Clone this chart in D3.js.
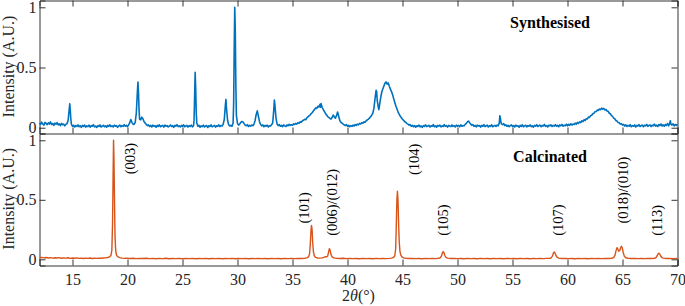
<!DOCTYPE html>
<html>
<head>
<meta charset="utf-8">
<script src="https://cdn.jsdelivr.net/npm/d3@7"></script>
<style>
body { margin: 0; background: #fff; }
text { font-family: "Liberation Serif", "Times New Roman", serif; fill: #262626; }
</style>
</head>
<body>
<div id="chart"></div>
<script>
// 2theta (deg), normalised intensity
var synthesised = [
  [12.0,.040],[12.1,.028],[12.2,.046],[12.3,.031],[12.4,.022],[12.5,.044],[12.6,.036],[12.7,.025],[12.8,.041],[12.9,.030],
  [13.0,.048],[13.1,.027],[13.2,.035],[13.3,.019],[13.4,.038],[13.5,.029],[13.6,.042],[13.7,.024],[13.8,.033],[13.9,.018],
  [14.0,.036],[14.1,.025],[14.2,.030],[14.3,.015],[14.4,.028],[14.5,.034],[14.6,.060],[14.7,.150],[14.75,.198],[14.8,.140],
  [14.85,.070],[14.9,.030],[15.0,.012],[15.1,.020],[15.2,.006],[15.3,.018],[15.4,.010],[15.5,.024],[15.6,.008],[15.7,.016],
  [15.8,.003],[15.9,.019],[16.0,.011],[16.1,.022],[16.2,.005],[16.3,.015],[16.4,.009],[16.5,.021],[16.6,.004],[16.7,.017],
  [16.8,.012],[16.9,.026],[17.0,.007],[17.1,.014],[17.2,.002],[17.3,.018],[17.4,.010],[17.5,.023],[17.6,.006],[17.7,.013],
  [17.8,.020],[17.9,.008],[18.0,.016],[18.1,.004],[18.2,.019],[18.3,.011],[18.4,.024],[18.5,.009],[18.6,.015],[18.7,.006],
  [18.8,.021],[18.9,.012],[19.0,.018],[19.1,.003],[19.2,.014],[19.3,.022],[19.4,.008],[19.5,.017],[19.6,.011],[19.7,.025],
  [19.8,.013],[19.9,.020],[20.0,.009],[20.1,.024],[20.2,.040],[20.3,.068],[20.4,.045],[20.5,.030],[20.6,.028],[20.7,.045],
  [20.8,.120],[20.9,.300],[20.95,.380],[21.0,.290],[21.05,.150],[21.1,.070],[21.2,.065],[21.3,.088],[21.4,.075],[21.5,.052],
  [21.6,.040],[21.7,.028],[21.8,.018],[21.9,.024],[22.0,.010],[22.1,.019],[22.2,.006],[22.3,.021],[22.4,.013],[22.5,.017],
  [22.6,.004],[22.7,.020],[22.8,.011],[22.9,.024],[23.0,.008],[23.1,.015],[23.2,.019],[23.3,.005],[23.4,.022],[23.5,.012],
  [23.6,.018],[23.7,.007],[23.8,.014],[23.9,.023],[24.0,.010],[24.1,.017],[24.2,.003],[24.3,.020],[24.4,.013],[24.5,.026],
  [24.6,.009],[24.7,.016],[24.8,.006],[24.9,.019],[25.0,.011],[25.1,.024],[25.2,.008],[25.3,.014],[25.4,.020],[25.5,.005],
  [25.6,.017],[25.7,.010],[25.8,.022],[25.9,.007],[26.0,.015],[26.05,.060],[26.1,.250],[26.15,.460],[26.2,.330],[26.25,.120],
  [26.3,.040],[26.4,.012],[26.5,.020],[26.6,.004],[26.7,.016],[26.8,.009],[26.9,.021],[27.0,.006],[27.1,.014],[27.2,.018],
  [27.3,.002],[27.4,.017],[27.5,.010],[27.6,.023],[27.7,.008],[27.8,.013],[27.9,.019],[28.0,.005],[28.1,.016],[28.2,.011],
  [28.3,.024],[28.4,.009],[28.5,.018],[28.6,.014],[28.7,.030],[28.8,.070],[28.9,.190],[28.95,.235],[29.0,.160],[29.1,.060],
  [29.2,.025],[29.3,.014],[29.4,.020],[29.5,.012],[29.6,.040],[29.65,.200],[29.7,.650],[29.75,1.0],[29.8,.800],[29.85,.350],
  [29.9,.100],[30.0,.035],[30.1,.022],[30.2,.030],[30.3,.045],[30.4,.052],[30.5,.048],[30.6,.034],[30.7,.022],[30.8,.016],
  [30.9,.025],[31.0,.010],[31.1,.019],[31.2,.013],[31.3,.022],[31.4,.017],[31.5,.030],[31.6,.060],[31.7,.110],[31.8,.140],
  [31.9,.095],[32.0,.050],[32.1,.028],[32.2,.015],[32.3,.024],[32.4,.008],[32.5,.019],[32.6,.012],[32.7,.021],[32.8,.006],
  [32.9,.017],[33.0,.014],[33.1,.025],[33.2,.040],[33.3,.150],[33.35,.230],[33.4,.190],[33.5,.080],[33.6,.030],[33.7,.018],
  [33.8,.026],[33.9,.012],[34.0,.020],[34.1,.009],[34.2,.023],[34.3,.015],[34.4,.010],[34.5,.024],[34.6,.016],[34.7,.028],
  [34.8,.019],[34.9,.025],[35.0,.021],[35.1,.032],[35.2,.027],[35.3,.036],[35.4,.030],[35.5,.042],[35.6,.038],[35.7,.050],
  [35.8,.046],[35.9,.058],[36.0,.062],[36.1,.070],[36.2,.066],[36.3,.082],[36.4,.090],[36.5,.098],[36.6,.105],[36.7,.118],
  [36.8,.126],[36.9,.140],[37.0,.150],[37.1,.165],[37.2,.160],[37.3,.178],[37.4,.172],[37.5,.195],[37.55,.170],[37.6,.200],
  [37.7,.168],[37.8,.150],[37.9,.135],[38.0,.118],[38.1,.105],[38.2,.092],[38.3,.085],[38.4,.078],[38.5,.072],[38.6,.085],
  [38.7,.105],[38.8,.090],[38.9,.080],[39.0,.100],[39.1,.130],[39.2,.095],[39.3,.060],[39.4,.045],[39.5,.038],[39.6,.030],
  [39.7,.024],[39.8,.018],[39.9,.026],[40.0,.012],[40.1,.020],[40.2,.008],[40.3,.017],[40.4,.011],[40.5,.022],[40.6,.014],
  [40.7,.026],[40.8,.019],[40.9,.030],[41.0,.024],[41.1,.036],[41.2,.031],[41.3,.042],[41.4,.038],[41.5,.050],[41.6,.046],
  [41.7,.058],[41.8,.064],[41.9,.072],[42.0,.080],[42.1,.092],[42.2,.104],[42.3,.120],[42.4,.160],[42.5,.240],[42.6,.310],
  [42.65,.300],[42.7,.230],[42.8,.170],[42.85,.150],[42.9,.180],[43.0,.240],[43.1,.290],[43.2,.320],[43.3,.345],[43.4,.370],
  [43.5,.380],[43.6,.362],[43.7,.372],[43.8,.345],[43.9,.320],[44.0,.300],[44.1,.275],[44.2,.240],[44.3,.210],[44.4,.180],
  [44.5,.155],[44.6,.130],[44.7,.112],[44.8,.095],[44.9,.082],[45.0,.070],[45.1,.062],[45.2,.050],[45.3,.046],[45.4,.034],
  [45.5,.030],[45.6,.022],[45.7,.026],[45.8,.012],[45.9,.020],[46.0,.008],[46.1,.018],[46.2,.004],[46.3,.016],[46.4,.010],
  [46.5,.022],[46.6,.007],[46.7,.015],[46.8,.003],[46.9,.018],[47.0,.011],[47.1,.024],[47.2,.009],[47.3,.014],[47.4,.020],
  [47.5,.006],[47.6,.017],[47.7,.012],[47.8,.025],[47.9,.008],[48.0,.016],[48.1,.004],[48.2,.019],[48.3,.013],[48.4,.021],
  [48.5,.007],[48.6,.015],[48.7,.010],[48.8,.026],[48.9,.012],[49.0,.018],[49.1,.005],[49.2,.020],[49.3,.014],[49.4,.009],
  [49.5,.023],[49.6,.011],[49.7,.017],[49.8,.006],[49.9,.021],[50.0,.013],[50.1,.019],[50.2,.008],[50.3,.024],[50.4,.012],
  [50.5,.018],[50.6,.015],[50.7,.028],[50.8,.036],[50.9,.048],[51.0,.056],[51.1,.042],[51.2,.030],[51.3,.020],[51.4,.026],
  [51.5,.011],[51.6,.019],[51.7,.007],[51.8,.022],[51.9,.014],[52.0,.018],[52.1,.005],[52.2,.020],[52.3,.012],[52.4,.025],
  [52.5,.009],[52.6,.016],[52.7,.021],[52.8,.006],[52.9,.017],[53.0,.011],[53.1,.024],[53.2,.008],[53.3,.015],[53.4,.019],
  [53.5,.010],[53.6,.022],[53.7,.016],[53.8,.040],[53.85,.100],[53.9,.080],[53.95,.045],[54.0,.030],[54.1,.026],[54.2,.034],
  [54.3,.018],[54.4,.024],[54.5,.012],[54.6,.020],[54.7,.009],[54.8,.017],[54.9,.023],[55.0,.010],[55.1,.018],[55.2,.006],
  [55.3,.021],[55.4,.013],[55.5,.016],[55.6,.004],[55.7,.019],[55.8,.011],[55.9,.024],[56.0,.008],[56.1,.015],[56.2,.020],
  [56.3,.007],[56.4,.018],[56.5,.012],[56.6,.023],[56.7,.009],[56.8,.016],[56.9,.005],[57.0,.020],[57.1,.013],[57.2,.025],
  [57.3,.010],[57.4,.017],[57.5,.022],[57.6,.008],[57.7,.019],[57.8,.014],[57.9,.027],[58.0,.011],[58.1,.018],[58.2,.006],
  [58.3,.021],[58.4,.015],[58.5,.024],[58.6,.010],[58.7,.019],[58.8,.013],[58.9,.026],[59.0,.012],[59.1,.020],[59.2,.008],
  [59.3,.023],[59.4,.016],[59.5,.027],[59.6,.012],[59.7,.021],[59.8,.017],[59.9,.030],[60.0,.016],[60.1,.028],[60.2,.020],
  [60.3,.033],[60.4,.022],[60.5,.031],[60.6,.026],[60.7,.038],[60.8,.030],[60.9,.044],[61.0,.036],[61.1,.048],[61.2,.042],
  [61.3,.058],[61.4,.050],[61.5,.066],[61.6,.060],[61.7,.074],[61.8,.072],[61.9,.088],[62.0,.086],[62.1,.100],[62.2,.104],
  [62.3,.116],[62.4,.120],[62.5,.132],[62.6,.134],[62.7,.146],[62.8,.144],[62.9,.155],[63.0,.150],[63.1,.162],[63.2,.154],
  [63.3,.160],[63.4,.148],[63.5,.152],[63.6,.138],[63.7,.136],[63.8,.120],[63.9,.116],[64.0,.100],[64.1,.094],[64.2,.080],
  [64.3,.074],[64.4,.060],[64.5,.056],[64.6,.044],[64.7,.042],[64.8,.030],[64.9,.034],[65.0,.022],[65.1,.028],[65.2,.014],
  [65.3,.024],[65.4,.010],[65.5,.020],[65.6,.013],[65.7,.025],[65.8,.008],[65.9,.018],[66.0,.012],[66.1,.023],[66.2,.006],
  [66.3,.019],[66.4,.014],[66.5,.026],[66.6,.010],[66.7,.017],[66.8,.022],[66.9,.008],[67.0,.020],[67.1,.015],[67.2,.028],
  [67.3,.011],[67.4,.019],[67.5,.024],[67.6,.009],[67.7,.021],[67.8,.016],[67.9,.030],[68.0,.013],[68.1,.022],[68.2,.010],
  [68.3,.025],[68.4,.018],[68.5,.031],[68.6,.014],[68.7,.024],[68.8,.012],[68.9,.028],[69.0,.019],[69.1,.034],[69.2,.016],
  [69.3,.040],[69.35,.058],[69.4,.030],[69.5,.022],[69.6,.033],[69.7,.015],[69.8,.026],[69.9,.019],[70.0,.030]
];

var calcinated = [
  [12.0,.014],[12.2,.016],[12.4,.012],[12.6,.015],[12.8,.011],[13.0,.014],[13.2,.010],[13.4,.013],[13.6,.011],[13.8,.014],
  [14.0,.009],[14.2,.012],[14.4,.010],[14.6,.013],[14.8,.008],[15.0,.011],[15.2,.009],[15.4,.012],[15.6,.008],[15.8,.010],
  [16.0,.007],[16.2,.010],[16.4,.008],[16.6,.011],[16.8,.007],[17.0,.009],[17.2,.008],[17.4,.010],[17.6,.009],[17.8,.011],
  [18.0,.012],[18.2,.015],[18.4,.022],[18.5,.034],[18.58,.080],[18.64,.300],[18.69,.700],[18.73,1.0],[18.77,.850],[18.82,.480],
  [18.87,.180],[18.93,.070],[19.0,.035],[19.1,.022],[19.3,.014],[19.5,.010],[19.7,.008],[19.9,.010],[20.2,.007],[20.5,.009],
  [20.8,.006],[21.1,.008],[21.4,.007],[21.7,.009],[22.0,.006],[22.3,.008],[22.6,.005],[22.9,.008],[23.2,.006],[23.5,.009],
  [23.8,.005],[24.1,.007],[24.4,.006],[24.7,.008],[25.0,.005],[25.3,.007],[25.6,.006],[25.9,.008],[26.2,.005],[26.5,.007],
  [26.8,.006],[27.1,.008],[27.4,.005],[27.7,.007],[28.0,.006],[28.3,.008],[28.6,.005],[28.9,.007],[29.2,.006],[29.5,.008],
  [29.8,.005],[30.1,.007],[30.4,.006],[30.7,.008],[31.0,.005],[31.3,.007],[31.6,.006],[31.9,.008],[32.2,.006],[32.5,.007],
  [32.8,.005],[33.1,.008],[33.4,.006],[33.7,.007],[34.0,.005],[34.3,.008],[34.6,.006],[34.9,.007],[35.2,.006],[35.5,.008],
  [35.8,.007],[36.1,.009],[36.3,.012],[36.45,.020],[36.55,.045],[36.62,.130],[36.68,.240],[36.73,.285],[36.78,.250],[36.83,.150],
  [36.9,.065],[36.98,.030],[37.1,.016],[37.3,.011],[37.5,.010],[37.7,.012],[37.9,.018],[38.0,.022],[38.1,.020],[38.2,.028],
  [38.28,.060],[38.35,.090],[38.42,.075],[38.5,.040],[38.6,.020],[38.75,.012],[39.0,.008],[39.3,.007],[39.6,.009],[39.9,.006],
  [40.2,.008],[40.5,.006],[40.8,.007],[41.1,.005],[41.4,.008],[41.7,.006],[42.0,.007],[42.3,.005],[42.6,.008],[42.9,.006],
  [43.2,.007],[43.5,.006],[43.8,.008],[44.0,.010],[44.2,.016],[44.3,.030],[44.38,.090],[44.44,.300],[44.49,.500],[44.54,.572],
  [44.59,.500],[44.64,.320],[44.7,.150],[44.77,.065],[44.85,.035],[44.95,.020],[45.1,.012],[45.3,.009],[45.6,.007],[45.9,.008],
  [46.2,.006],[46.5,.007],[46.8,.005],[47.1,.008],[47.4,.006],[47.7,.007],[48.0,.006],[48.3,.009],[48.45,.015],[48.55,.030],
  [48.63,.055],[48.7,.065],[48.77,.055],[48.85,.032],[48.95,.016],[49.1,.010],[49.4,.007],[49.7,.008],[50.0,.006],[50.3,.007],
  [50.6,.005],[50.9,.008],[51.2,.006],[51.5,.007],[51.8,.005],[52.1,.008],[52.4,.006],[52.7,.007],[53.0,.005],[53.3,.008],
  [53.6,.006],[53.9,.007],[54.2,.005],[54.5,.008],[54.8,.006],[55.1,.007],[55.4,.005],[55.7,.008],[56.0,.006],[56.3,.007],
  [56.6,.005],[56.9,.008],[57.2,.006],[57.5,.007],[57.8,.006],[58.1,.008],[58.4,.009],[58.55,.015],[58.65,.032],[58.73,.055],
  [58.8,.062],[58.87,.052],[58.95,.032],[59.05,.018],[59.2,.010],[59.5,.007],[59.8,.008],[60.1,.006],[60.4,.007],[60.7,.005],
  [61.0,.008],[61.3,.006],[61.6,.007],[61.9,.005],[62.2,.008],[62.5,.006],[62.8,.007],[63.1,.006],[63.4,.008],[63.7,.007],
  [64.0,.009],[64.2,.014],[64.32,.035],[64.42,.075],[64.5,.098],[64.58,.085],[64.66,.068],[64.74,.072],[64.82,.095],[64.9,.110],
  [64.98,.095],[65.07,.055],[65.17,.025],[65.3,.013],[65.5,.009],[65.8,.007],[66.1,.008],[66.4,.006],[66.7,.007],[67.0,.006],
  [67.3,.008],[67.6,.007],[67.9,.009],[68.05,.015],[68.15,.030],[68.23,.045],[68.3,.052],[68.38,.045],[68.47,.028],[68.58,.015],
  [68.7,.010],[69.0,.007],[69.3,.008],[69.6,.006],[70.0,.007]
];

var xTicks = [15, 20, 25, 30, 35, 40, 45, 50, 55, 60, 65, 70];
var yTicks = [0, 0.5, 1];
var yTickLabels = ["0", "0.5", "1"];

// Miller index labels, placed at (2theta, intensity where the text starts)
var peakNames  = ["(003)", "(101)", "(006)/(012)", "(104)", "(105)", "(107)", "(018)/(010)", "(113)"];
var peakAngles = [20.2, 36.03, 38.55, 46.0, 48.66, 59.1, 65.0, 68.1];
var peakLevels = [0.714, 0.30, 0.197, 0.708, 0.197, 0.197, 0.30, 0.197];

var W = 685, H = 306,
    left = 39.5, right = 677.5,
    topY = 0.5, midY = 133.5, botY = 265.5,
    tick = 6,
    axisColor = "#333";

var svg = d3.select("#chart").append("svg")
    .attr("width", W)
    .attr("height", H);

var x = d3.scaleLinear().domain([12, 70]).range([left, right]);
var yTop = d3.scaleLinear().domain([-0.048, 1.0565]).range([midY, topY]);
var yBot = d3.scaleLinear().domain([-0.052, 1.057]).range([botY, midY]);

function styleAxis(g) {
  g.select(".domain").attr("stroke", axisColor);
  g.selectAll(".tick line").attr("stroke", axisColor);
  g.selectAll(".tick text")
    .attr("fill", "#262626")
    .style("font-family", '"Liberation Serif", serif')
    .style("font-size", "16px");
}

function panel(y, data, color, width, hasTopAxis, xLabels) {
  // left and right y axes, ticks pointing in
  svg.append("g")
    .attr("transform", "translate(" + left + ",0)")
    .call(d3.axisLeft(y).tickValues(yTicks).tickSize(-tick).tickPadding(3)
      .tickFormat((d, i) => yTickLabels[i]))
    .call(styleAxis);

  svg.append("g")
    .attr("transform", "translate(" + right + ",0)")
    .call(d3.axisRight(y).tickValues(yTicks).tickSize(-tick).tickFormat(""))
    .call(styleAxis);

  var bottom = y.range()[0];
  svg.append("g")
    .attr("transform", "translate(0," + bottom + ")")
    .call(d3.axisBottom(x).tickValues(xTicks).tickSize(-tick).tickPadding(8)
      .tickFormat(xLabels ? d3.format("d") : ""))
    .call(styleAxis);

  if (hasTopAxis) {
    svg.append("g")
      .attr("transform", "translate(0," + y.range()[1] + ")")
      .call(d3.axisTop(x).tickValues(xTicks).tickSize(-tick).tickFormat(""))
      .call(styleAxis);
  }

  var line = d3.line()
    .x(d => x(d[0]))
    .y(d => y(d[1]));

  svg.append("path")
    .datum(data)
    .attr("fill", "none")
    .attr("stroke", color)
    .attr("stroke-width", width)
    .attr("stroke-linejoin", "round")
    .attr("d", line);

  svg.append("text")
    .attr("transform", "translate(8," + (y(0.5) - 1) + ") rotate(-90)")
    .attr("dy", "0.35em")
    .attr("text-anchor", "middle")
    .style("font-size", "16px")
    .text("Intensity (A.U.)");
}

panel(yTop, synthesised, "#0072BD", 1.6, true, false);
panel(yBot, calcinated, "#D95319", 1.4, false, true);

svg.append("text")
  .attr("x", 550).attr("y", 28)
  .attr("text-anchor", "middle")
  .style("font-size", "16px").style("font-weight", "bold")
  .style("fill", "#000")
  .text("Synthesised");

svg.append("text")
  .attr("x", 550).attr("y", 161.5)
  .attr("text-anchor", "middle")
  .style("font-size", "16px").style("font-weight", "bold")
  .style("fill", "#000")
  .text("Calcinated");

// peak indices, rotated
svg.selectAll("text.peak")
  .data(peakNames)
  .enter().append("text")
    .attr("class", "peak")
    .attr("transform", (d, i) => "translate(" + x(peakAngles[i]) + "," + yBot(peakLevels[i]) + ") rotate(-90)")
    .attr("dy", "0.35em")
    .attr("text-anchor", "start")
    .style("font-size", "14.5px")
    .style("fill", "#000")
    .text(d => d);

// x axis title: 2θ(°)
var xt = svg.append("text")
  .attr("x", (left + right) / 2)
  .attr("y", 301)
  .attr("text-anchor", "middle")
  .style("font-size", "16px");
xt.append("tspan").text("2");
xt.append("tspan").style("font-style", "italic").text("θ");
xt.append("tspan").text("(°)");
</script>
</body>
</html>
